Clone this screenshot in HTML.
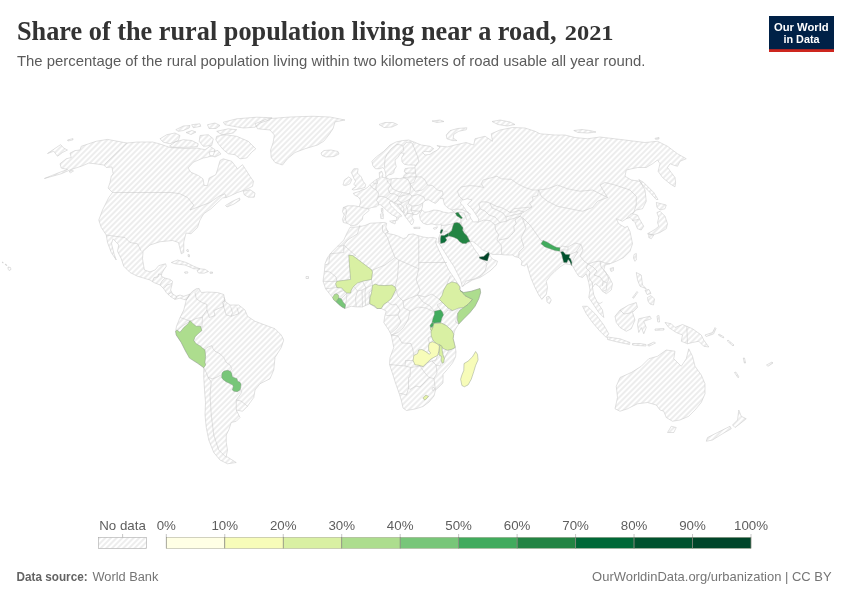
<!DOCTYPE html>
<html><head><meta charset="utf-8"><title>Share of the rural population living near a road, 2021</title>
<style>
html,body{margin:0;padding:0;background:#fff;}
body{width:850px;height:600px;overflow:hidden;position:relative;font-family:"Liberation Sans",sans-serif;}
#title{position:absolute;left:17px;top:14px;font-family:"Liberation Serif",serif;font-weight:bold;font-size:25.5px;line-height:32px;color:#3d3d3d;white-space:nowrap;transform-origin:0 0;letter-spacing:0.1px;}
#sub{position:absolute;left:17px;top:52px;font-size:15px;line-height:20px;color:#5b5b5b;white-space:nowrap;transform-origin:0 0;}
#logo{position:absolute;left:769px;top:16px;width:65px;height:33px;background:#002147;border-bottom:3px solid #ce261e;color:#fff;font-weight:bold;font-size:11.6px;line-height:12px;text-align:center;letter-spacing:-0.35px;}
#logo div{position:absolute;left:0;width:65px;white-space:nowrap;}
#src{position:absolute;left:17px;top:568px;font-size:13px;line-height:16px;color:#5b5b5b;white-space:nowrap;transform-origin:0 0;}
#src b{font-weight:bold;}
#cc{position:absolute;right:17px;top:568px;font-size:13px;line-height:16px;color:#5b5b5b;white-space:nowrap;transform-origin:100% 0;}
svg{position:absolute;left:0;top:0;}
.lg{font-family:"Liberation Sans",sans-serif;font-size:13.3px;fill:#5e5e5e;}
</style></head><body>
<svg width="850" height="600" viewBox="0 0 850 600">
<defs>
<pattern id="nd" patternUnits="userSpaceOnUse" width="4" height="4" patternTransform="rotate(-45 2 2)">
<path d="M -1,2 l 6,0" stroke="#ccc" stroke-width="0.7"/>
</pattern>
<filter id="idf" x="0" y="0" width="850" height="600" filterUnits="userSpaceOnUse" color-interpolation-filters="sRGB"><feOffset dx="0" dy="0"/></filter>
</defs>
<g id="map">
<path d="M126.9,143 L117.5,141.25 L107.5,139.4 L96.25,141.25 L88.75,143.75 L81.25,146.25 L80,150 L75,150.6 L70,153.1 L71.25,157.5 L66.25,158.75 L60,163.75 L61.25,168.1 L67.5,169.4 L58,173 L44.4,178.5 L61.25,173.75 L71.25,169.4 L81.25,166.25 L88.75,163.1 L95,163.75 L103.75,165 L106.25,167.5 L111.9,166.9 L113.1,173.75 L111.25,176.25 L110,182.5 L108.1,188.1 L112.5,192.5 L108.75,197.5 L102.5,210 L98.75,220 L101.25,227.5 L106.25,235 L107.5,242.5 L111.25,252.5 L116.25,260 L114,253.75 L111.5,243.75 L113,238.75 L118.75,245 L117.5,251.25 L121.25,258.75 L123.75,266.25 L130,272.5 L137.5,276.25 L143.75,278.1 L150,280 L153.75,282.5 L160,285 L163.75,288.75 L166.25,292.5 L170,296.25 L175,299.4 L180,298.1 L183.75,299.4 L186.25,300 L190,294 L187.5,295 L183.75,296.25 L180,295 L176.25,296.25 L172.5,293.75 L170.6,290 L171.9,285 L172.5,281.25 L170,279.4 L165,278.1 L161.25,276.25 L161.9,273.1 L163.75,270 L166.25,266.25 L165.6,263.75 L158.75,265.6 L155,270 L150,271.9 L144.4,270 L143.75,266.25 L142.5,258.75 L143.1,251.25 L150,245 L160,241.75 L172.5,240.5 L178.5,242.5 L181.25,253.75 L183.75,252.5 L183.75,242 L186,233 L191,233.75 L197.5,227.5 L200,220 L203.75,213.75 L211,208.75 L215,205 L222.5,198 L226.25,197.5 L230,196 L237.5,192.5 L245,190 L252.5,186.3 L253.5,181.3 L250,176.3 L245.8,169.7 L242.5,164.7 L237.5,168.8 L235,165.5 L231.7,161.3 L223.3,158.8 L220,160.5 L217.5,169.7 L215.8,174.7 L209.2,178 L207.5,185.5 L204.2,185.5 L203,178.8 L198.3,175.5 L190.8,172.2 L188,168 L193.3,162.2 L203.3,158 L207.5,157.2 L213.3,155.5 L215,149.7 L210,146.3 L205,149.7 L196.7,148 L185,148.5 L170,147.5 L160,144 L152.5,142 L137.5,142Z M47.5,153.5 L60.6,144.6 L63.75,148.1 L67.5,150 L62.5,152.5 L57.5,156.25 L53.75,151.25Z M69,171.5 L72,169.8 L73.5,171 L70.5,172.8Z M67.5,140 L73,138.6 L73,139.8 L68,141Z M160,138.8 L166.7,134.7 L175,133 L180,135.5 L178.3,140.5 L170,143.8 L163.3,142.2Z M169.5,146 L175.5,141.8 L183.3,139.7 L191.7,140.5 L198.3,143.8 L197.5,146.6 L190,147.2 L180,147.4 L172.5,147.2Z M175.8,129.7 L183.3,126 L190,125.5 L189.2,128 L183.3,130.5 L178.3,131.3Z M191.7,124.7 L200,123.8 L200.8,126.3 L193.3,127.7Z M186,132.5 L192,130.5 L196,132 L191,134.5Z M207.5,124.7 L215,123 L220,125.5 L216,128.5 L209,128.5Z M216.7,131.3 L228.3,128.8 L236.7,129.7 L233.3,133 L221.7,134.7Z M223.3,122.2 L236.7,118.8 L256.7,117.2 L272,117.7 L270,119.7 L260,123 L255,127.2 L243.3,128 L233.3,126.3 L225,124.7Z M216.7,136.3 L225,134.7 L236.7,136.3 L248.3,141.3 L255.8,148.8 L251.7,152.2 L246.7,158 L240,158.8 L235,154.7 L228.3,153.8 L223.3,149.7 L218.3,143.8 L215.8,139.7Z M200,135.5 L208.3,134.7 L213.3,138.8 L211.7,145.5 L203.3,146.3 L199.2,141.3Z M209,152 L218,150.5 L221,154 L215,157 L210,155.5Z M243.3,191.3 L250,189.7 L255,193 L254.2,197.2 L248.3,197.2 L244.2,194.7Z M225.5,205.5 L232,201.5 L239.5,198 L240,200 L234,204 L227,207Z M255,123.75 L267.5,118.75 L290,117 L312.5,116.25 L330,117 L345,120 L335,121.9 L333,128.75 L328.75,135 L323.75,141.25 L317.5,145 L305,148.75 L295,152.5 L287.5,158.75 L282.5,165 L275,162.5 L271.25,157.5 L270.6,150 L273.1,142.5 L274.4,135 L270,130 L257.5,128.75Z M321,153 L324,150.5 L331,150 L338,151.5 L339,154 L334,156.5 L326,157 L322,155.5Z M171.25,262.5 L177.5,260 L186.25,262.5 L193.75,266.25 L200,268.75 L193.75,268.75 L185,265 L175,263.75Z M197,270.5 L200,268.8 L205,269.3 L208.5,271.5 L204,273.2 L198.5,273Z M184.5,272 L187.5,271.7 L188,273 L185,273.3Z M210,272 L212.5,272 L212.5,273.3 L210,273.3Z M186.25,300 L190,294 L192.5,291.25 L196.25,288.75 L199,288.5 L201.25,292.5 L207.5,292 L217.5,292.5 L223.75,294.5 L225,301.25 L230,305 L238.75,305 L245,310 L247.5,316.25 L255,321.25 L265,325 L275,328.75 L281.25,335 L283.75,340 L281.25,347.5 L275,357.5 L273.75,370 L270,378.75 L260,383.75 L255,390 L253.75,397.5 L247.5,406.25 L242.5,411.25 L236.25,410 L240,417.5 L236.25,421.25 L231.25,422.5 L228.75,430 L226.25,435 L226.25,442.5 L227.5,450 L226.25,456.25 L236.25,462.5 L227.5,463.75 L220,460 L213.75,452.5 L208.75,440 L206.25,427.5 L205,415 L205.5,402.5 L204.5,390 L203.75,377.5 L203.75,367.5 L192.5,360 L186.25,352.5 L181.25,342.5 L176.25,335 L175.6,331.25 L176.5,326.25 L180,317.5 L183.75,310Z M350,227.3 L357,227 L365,225.5 L370,223.25 L378.3,222.8 L384.2,222.4 L386.7,223.25 L385.8,227 L387.5,231.2 L388.3,233.7 L393.3,234.5 L398.3,236.2 L403.3,238.7 L406.7,237.4 L408.3,234.5 L413.3,234 L416.7,235.3 L423.3,237 L428.3,237.8 L433.3,237.4 L436.5,238.5 L435.6,242.5 L438.75,250 L443.75,260 L448.75,270 L453.75,277.5 L458.75,285 L460.6,288.75 L460,290.6 L463.75,292.5 L471.25,291.25 L480,288.5 L480.6,292.5 L478.75,298.75 L475,306.25 L470,312.5 L463.75,318.75 L458.75,324 L455,330 L453.75,334.25 L453.1,338.6 L454.4,343.6 L455.25,347.4 L456,351.75 L455.6,356.75 L452.5,363 L447.5,369.25 L443.1,374.25 L443,383 L439,387 L435.5,390 L434,396 L429,402 L423,406.5 L415,409 L406.5,410.5 L403,408 L401.5,401 L399,393 L395.5,383 L392,372 L389.5,364.5 L390,357.5 L393.75,347.5 L391.25,335 L388.75,330 L383.75,322.5 L385,315 L386.25,311 L381.25,308.5 L376.9,308.5 L369.75,303.75 L362.5,306.9 L356.25,306.9 L351.25,306.25 L345,308.5 L341.9,306.9 L338.75,304.4 L336.25,301.9 L332.5,297.5 L330,294.4 L325.6,288.75 L323,281.25 L324.4,271.25 L325,263.75 L327.5,257.5 L332.5,251.25 L337.5,246.25 L343.75,240 L347,233Z M350.8,225.8 L349.2,224.2 L346.7,223.3 L343.3,222.5 L342.5,219.2 L344.2,215 L342.5,211.7 L343.3,207.5 L347.5,205.8 L354.2,205.8 L359.2,206.7 L360.7,202 L360,199.3 L358,196.7 L354.7,195.3 L353.3,193.3 L357.3,192 L360,191.3 L361.3,190 L364.7,189.3 L367.7,187.3 L370,184.7 L372.7,182 L376.7,179.3 L379.6,177.9 L379.2,172.5 L381.7,171.25 L382.9,174.2 L382.5,177.5 L386.7,177.9 L389.2,179.2 L391.7,178.75 L395.8,178.3 L400,178.75 L403.3,177.5 L404.2,175 L406.7,173.3 L404.2,171.7 L405,168.75 L408.3,168 L415,167.8 L415,165 L408.3,165 L404.2,164.2 L402,161.7 L401.7,157.5 L404.2,153.3 L400.8,152.9 L397.9,157.5 L395,160 L395.4,163.3 L396.25,166.7 L394.2,170 L393.75,172.9 L391.7,174.2 L388.3,175 L385.8,177.5 L385.8,174.2 L384.6,169.6 L382.9,167.5 L379.2,168.75 L375.4,168.75 L372.9,165.8 L371.9,161.25 L376.25,156.9 L383.75,151.25 L390,145 L396.25,141.9 L402.5,140.6 L408.75,140 L413.75,141.9 L421.25,145 L430,146.25 L433.75,148.75 L430,151.9 L425,151.25 L422.5,152.5 L425,155 L430,154.4 L433.75,151.9 L437.5,150 L440,146.9 L436.9,145.6 L441.25,146.25 L447.5,146.9 L455,145 L466,142.5 L473.75,145 L475,138.75 L485,136.25 L492.5,141.25 L491.25,133.75 L500,130 L512.5,127.5 L525,128 L535,131.25 L540,133.75 L555,135 L565,135 L575,137.5 L587.5,138.75 L600,137 L625,140 L645,142.5 L657.5,141.25 L667.5,146.25 L677.5,153.75 L686.25,158.75 L680,161.25 L677.5,166.25 L675,165.6 L670,163.75 L667.5,167.5 L671.25,172.5 L675,177.5 L675.6,182.5 L675,186.9 L670,183.75 L662.5,177.5 L658.1,171.25 L660,163.75 L657.5,160 L652.5,163.75 L646.25,167.5 L637.5,167.5 L626.25,170 L625,176.25 L631.25,180 L640,181.25 L645,190 L646.25,201.25 L642.5,208.75 L636.25,210 L632.5,213.75 L637.5,215 L640,220 L643.75,226.25 L641.25,230 L637.5,228.75 L635,222.5 L630,217.5 L626.25,218.75 L622.5,221.25 L616.25,218.75 L618.75,223.75 L625,227.5 L627.5,226.25 L630,231.5 L631.25,237.5 L632.5,243.75 L630,251.25 L623.75,257.5 L616.25,261.25 L610,263.75 L605,265 L603.75,270 L608.75,276.25 L612.5,283.75 L611.25,290 L606.25,293.75 L602.5,291.25 L598.75,286.25 L595,283.75 L592.5,287.5 L593.75,295 L597.5,302.5 L602.5,310 L603.75,317.5 L598.75,312.5 L593.75,305 L588.75,297.5 L590,290 L588.75,282.5 L586.25,273.75 L582.5,277.5 L578.75,276.25 L576.25,272.5 L572,265 L565,263.75 L560,266.9 L555,271.25 L550,276.25 L546.25,281.25 L547.5,287.5 L546.25,294.4 L541.9,299.4 L538.75,295 L535,287.5 L531.25,278.75 L528.1,268.75 L526.9,263.75 L524.5,266 L521.25,265 L522,261 L518.75,257.5 L515,256.7 L512.5,255 L506.25,255 L500,254.4 L492.5,254.4 L490,253.1 L487.5,251.9 L482.5,250 L477.5,245 L472.5,241.25 L470,241.9 L471.9,245 L475,250 L478.75,255 L480,257.25 L483.75,256.25 L487.5,253.3 L489.2,252.3 L490,256.25 L493.1,259.4 L497.5,261.25 L496.25,265 L491.25,270 L485,274.4 L480,277.5 L472.5,280 L466.25,283.75 L461.9,286.5 L461.9,285 L460.6,280 L457.5,273.75 L453.75,266.25 L448.75,258.75 L442.5,248.75 L438.5,242.5 L438.75,237.5 L440.75,233 L441.2,227.2 L441.2,223.8 L439.5,224.7 L436.2,225 L432,223.8 L427,224.7 L422.8,223 L420.3,219.7 L419.5,215.5 L420.3,213 L422,209.7 L424.5,212.2 L428.7,211.75 L433.7,210 L438.7,210.5 L443.7,212.2 L448.7,213 L453.7,212.2 L452,210 L447.8,208 L444.5,204.7 L442.8,198 L439.5,198.8 L437.8,201.3 L435.3,203.4 L432,201.75 L428.7,199.7 L425.3,200.5 L422.8,203 L422.4,207.2 L421.5,209.5 L420,211.2 L419.2,212.8 L416.7,214.5 L413.3,214.5 L411.7,217 L413.75,220.3 L413.3,222.8 L411.7,225 L410,222.8 L407.5,219.5 L405,216.2 L403.3,212.8 L399.2,208.7 L395,204.5 L391.7,201.2 L389.2,202 L390.8,205.3 L394.2,208.7 L398.3,212.8 L400.8,214.5 L401.7,216.2 L399.2,217 L397.9,219.5 L396.7,220.75 L396.7,217 L392.5,215 L388.3,212 L384.2,207.8 L380,204.5 L378.3,205 L376.7,206.7 L371.7,207.5 L368.3,208.75 L369.2,210.4 L365.8,213.3 L362.9,215.8 L362.5,219.2 L360,221.7 L356.7,225Z M343,185 L344.4,180 L348.75,176.9 L351.9,179.4 L350,183.75 L345.6,185.6Z M351.25,172.5 L353.75,168.75 L358.1,168.75 L357.5,173.1 L361.25,176.9 L363.1,181.25 L365.6,184.4 L365,187.5 L360,188.75 L353.75,190 L351.9,189.4 L356.25,186.25 L353.75,184.4 L355.6,181.25 L353.75,178.1 L352.5,175Z M389.6,221.2 L395.8,220.3 L395,224 L391.25,222.4Z M380.4,214 L383.3,213.7 L383.3,218.7 L380.8,218.4Z M381.25,208.5 L382.9,208.25 L382.9,212.8 L381.6,212.3Z M413.7,227.3 L420,227.2 L420,228.4 L413.9,228.5Z M433.2,228.2 L437.6,226.75 L436.3,228.8 L434,229.2Z M446.9,138.75 L446.25,135 L450,130.6 L457.5,128.5 L466.9,127.75 L466.25,129.75 L458.75,131.25 L453.75,134.4 L453.1,138.1 L456.9,140.6 L452.5,140.6Z M379,124.5 L385,122.5 L393,122.5 L397.5,124.5 L392,127 L384,127.5Z M432,121 L440,120 L444,121.5 L437,122.5Z M492,121.5 L500,120 L510,122 L515,124.5 L507,126 L498,124.5Z M573.75,130.5 L582,129.5 L590,130.5 L596,132 L588,133 L578,132.5Z M655,138.3 L659,137.5 L659,139 L655.5,139.3Z M638.75,179.5 L643.75,182.5 L653.75,192.5 L658,199.5 L656.25,199.5 L650,192.5 L642.5,185Z M656.25,202.5 L666.25,205 L665,208.75 L660,210 L657,207.5Z M660,211.25 L665,216.25 L667.5,223.75 L666.25,228.75 L660,232.5 L652.5,235 L647.5,233.75 L655,229.4 L658.75,226.25 L657.5,222.5 L658.75,217.5 L656.9,212.5Z M648.75,233.75 L653.75,235 L651.25,238.75 L648.75,237.5Z M634,254.5 L636.3,253.5 L636.3,260 L634.8,261.3 L633.5,258Z M610,268.5 L613.5,267.5 L613.5,270.5 L611,271.5Z M546.5,297 L549,296.3 L551.3,300 L549.5,303.7 L547,302Z M636.25,272.5 L641.25,275 L642.5,285 L646.25,288.75 L640,286.25 L637.5,280Z M647.5,297.5 L651,295.5 L654.5,299 L653.5,305 L650,304 L648,301Z M645,290 L649,289.5 L651,293.5 L647,294.5Z M632.5,297.5 L637,291.5 L637.8,292.3 L633.5,298.3Z M615,316.25 L620,310 L628.75,305 L636.25,302.5 L637.5,307.5 L632.5,312.5 L635,320 L631.25,328.75 L626.25,331.25 L620,327.5 L616.25,322.5Z M582.5,306.25 L587.5,306.25 L596.25,315 L603.75,325 L608.75,333.75 L606.25,337.5 L600,331.25 L592.5,322.5 L586.25,313.75Z M607.5,337 L620,338.75 L630,342.5 L629.5,344.5 L617.5,342 L607.5,339.5Z M638.75,318.75 L650,316.25 L651.25,318.75 L643.75,321.25 L646.25,327.5 L643.75,333.75 L641.25,327.5 L638.75,332.5 L637.5,325Z M632.5,343.5 L640,343.5 L646,344.5 L646,346 L638,345.5 L632.5,345Z M647.5,345 L654,342 L655.5,343 L649,346.2Z M657,316 L659,315.5 L659.5,322 L657.8,322Z M655,329 L664,328.5 L664,330 L655,330.3Z M665,322.5 L671.25,323.75 L675,327.5 L682.5,324.5 L692.5,328.75 L701.25,335 L703.75,340 L708.75,347 L703.75,346.25 L698.75,341.25 L692.5,342.5 L687.5,343.75 L681.25,341.25 L682.5,335 L676.25,332.5 L668.75,327.5Z M705,335 L712.5,332.5 L715,327.5 L716,328.5 L713.5,334 L706,336.5Z M615,408.75 L617.5,397.5 L616.25,386.25 L620,377.5 L631.25,372.5 L641.25,366.25 L648.75,358.75 L657.5,356.25 L666.25,350 L675,351.25 L673.75,358.75 L681.25,366.25 L686.25,358.75 L688.75,348.75 L692.5,356.25 L695,366.25 L701.25,375 L705,383.75 L705,393.75 L701.25,402.5 L695,410 L688.75,416.25 L680,420 L672.5,421.25 L666.25,417.5 L663.75,411.25 L660,410 L656.25,405 L647.5,402.5 L637.5,403.75 L627.5,408.75 L620,411.25Z M667.5,432.5 L671.25,426.25 L676.25,427.5 L673.75,432.5Z M738.75,410 L741.25,416.25 L746.25,418.75 L740,423.75 L735,427.5 L732.5,425 L737.5,420Z M730,426.25 L731.25,428.75 L722.5,433.75 L712.5,440 L706.25,441.25 L707.5,437.5 L717.5,432.5Z M734.5,372.5 L735.8,372 L739,377 L738,377.8Z M766.5,365 L772,362 L773,363 L768,366.3Z M743.3,358 L744.5,358 L745.5,363 L744.3,363Z M719,334 L724,337 L723.3,338 L718.3,335Z M728,340 L734,345 L733,346 L727.3,341Z M2,262 L3.2,262.3 L3,263.2Z M5,264 L7,265 L6.5,265.9Z M8,267 L10.5,267.5 L11,269.5 L9,270.5 L8,269Z M306,276.5 L308.5,276.5 L308.5,278.5 L306,278.5Z M186.5,250 L188,249.3 L188.5,251.5 L187.2,251.5Z M188,254.5 L189.5,254.8 L189.3,257 L188.2,256.5Z" fill="url(#nd)" stroke="#c4c4c4" stroke-width="0.5" stroke-linejoin="round"/>
<path d="M460.8,201.7 L462.5,200 L467.5,198.75 L472,200 L469,202.5 L467.5,204.6 L471.7,208.3 L474,211.7 L476.7,215.8 L478.75,219 L478.3,221.7 L473.3,222 L470.8,218.3 L469,214 L465.8,210 L463,205.8 L460.4,203Z" fill="#fff" stroke="#c4c4c4" stroke-width="0.5" stroke-linejoin="round"/>
<path d="M126.9,143 L104.4,164.75 M112.5,192.5 L171.25,192.5 L180,193.75 L187.5,197.5 L193.75,205 L190,210 L200,206.25 L210,202.5 L218.75,196.25 L225,193.75 L226.25,197.5 M106.25,235 L115,236.25 L125,237.5 L130,242.5 L137.5,243.75 L141.25,251.25 M152.5,281.5 L154,277.5 L158,277 L158.5,274 L161.5,274.5 M160,285 L162,281 L165,278.1 M163.75,288.75 L167,285 L172,283.5 M168,294.5 L171,292.5 L172.5,293.75 M175,299.4 L176.5,297.5 L176.25,296.25 M199,288.5 L195,292.5 L196.25,298.75 L201.9,302.5 L206.9,304.4 L206.9,310 M206.9,310 L209.4,317.5 L215,315.6 L213.75,310.6 L223.75,306.25 L222.5,302.5 L225,300 L223.75,297 M225,300 L223.1,305 L226.25,315 L231.25,316.25 L235,315 L238.75,313.75 L242.5,310 M231.25,316.25 L232.5,312.5 L230.6,306.5 M238.75,313.75 L236.9,307.5 M206.9,310 L202.5,316.25 L201.9,327.5 M180,317.5 L186,319.5 L190,321.25 L196,318.5 L202.2,317.3 M190,321.25 L183,325.5 L177.5,330 M205,350 L206.9,347.5 L211.9,345.6 L213.1,348.75 L215,351.25 L220,353.75 L223.75,357.5 L226.25,362.5 L230,365 L231.9,368.75 L230,371.25 M203.75,367.75 L206.25,372.5 L208.1,377.5 L211.25,382 L210,395 L211.25,415 L213.75,435 L218.75,450 L226.25,457.5 M208.1,377.5 L212.5,378.75 L216.25,377.5 L222,374.5 M236.25,391.75 L240,388.75 L242,392 L236.25,400 L236.25,410 M236.25,400 L241,401 L247.5,406.25 M360,225 L357.5,233.75 L347.5,240 L343.75,245 M343.75,245 L343.75,252.5 L330,253.75 L328.75,263.75 L325,265 M337.5,246.25 L343.75,245.6 M343.75,245 L356.25,256.25 M372.5,270 L385,265 L395,257.5 M395,257.5 L390,245 L387.5,237.5 L385,233.75 L382.5,231 L382.5,225 M385,233.75 L388.5,231.5 L386.25,230 M418.75,236.5 L418.75,262.5 L418.75,268.75 M395,257.5 L398.75,260 L418.75,268.75 M418.75,262.5 L447,262.5 M398.75,260 L397.5,277.5 L395,287 M418.75,268.75 L416.25,280 L420,290 L417.5,295 M417.5,295 L425,297 L432,294 L439.4,299.4 M446.9,284.4 L449,279 L450.5,275.5 M396,289.4 L398,296 L403,301 L410,298 L417.5,295 M395,287 L396,289.4 M387.5,301.9 L392,305 L396,304 L400,310 L398,315 L386.25,315.5 M403,301 L404,308 L410,311 L418,307 L426,308 L432,311 L434.4,311.25 M417.5,295 L423,302 L430,306 L434.4,311.25 M441.9,301.9 L437,305 L440.6,309.75 M443.5,315 L448,310 L452.5,310.6 M441.25,323 L446.25,325.5 M457.75,313.1 L455.5,322 L458.75,324 M398,315 L401,322 L397,328 L391.25,333 M410,311 L408,320 L403,328 L398,332.5 L391.25,335 M391.25,335 L398,336 L402,343 L411,343.5 L413,350 L413.75,355.5 M429.4,343 L428,338 L431.25,336.1 M413.1,360.5 L405.5,360.5 L405,366 L389.5,364.5 M405,366 L411,367.5 L420,366 L418.75,365.25 M410.5,367.5 L410,377 L408.5,377.5 L408.5,388 L406.5,395 L401,393.5 L399.5,393.5 M420,366 L425,373 L429,377.5 L424,383 L420,387 L416,386 L410,389.5 L408.5,388 M420,366 L423.1,366.5 L427,362.8 L432,361 L436,365 L437,373 L434,378.5 L429,377.5 M434,378.5 L435,387 L435.5,390 M437.5,355.5 L436,360 L432,361 M436,365 L440,366 L441.5,362.5 M455.25,347.4 L449,350 L444.4,358.6 M323,281.25 L331,281.5 L336.9,281.25 M324.4,271.25 L330,272 L336,277 L336.9,281.25 M325.6,288.75 L333,288 L336.9,287.5 M334.4,294.4 L339,292 L343.75,290.6 M341.25,298.75 L344,296 L346.9,293.1 M345.6,305 L346.5,299 L346.9,293.1 M356.25,306.9 L355.5,298 L357.5,291 L353.75,286.25 M357.5,291 L362,290 L366,288 L362.5,281.25 M362,290 L362.5,306.9 M365.5,305.5 L365,292 L366,288 M369.75,303.75 L369,293 L371.9,290 M366,288 L370,286 L372.5,285.6 M371.5,279.4 L372.5,285.6 M343.3,207.5 L346,208.5 L346.5,213 L345,218 L346.5,222.8 M359.2,206.7 L364,208 L368.3,208.75 M370,184.7 L372,187.5 L376,190 L378.5,193 L378,197 L376.5,200.5 L378.5,203 L378.3,205 M376.7,179.3 L377.5,183 L376,186 L376,190 M372.7,182 L374.5,184 L377.5,183 M378,197 L382,196.3 L386,197.5 L389,199.5 L391.7,201.2 M386.7,177.9 L387.5,182 L390.6,185 L388,189 L390,193.5 L386,197.5 M390.6,185 L392.5,188.75 L397.5,191.25 L402.5,192.5 L409.4,193.75 M391.25,179 L390.6,185 M403.3,177.5 L408,179.5 L410,183.75 L410.6,188.75 L409.4,193.75 M390,193.5 L395,194 L399,196.5 L402.5,192.5 M399,196.5 L397.5,200 L394,202.5 L391.7,201.2 M399,196.5 L404,195.5 L409.4,193.75 L412,196 M397.5,200 L402,203 L406,201 L410,199 L412,196 M412,196 L418,194.5 L424,197 L425.3,200.5 M410,199 L408,203.5 L412,206 L418,205.5 L422.8,203 M394,202.5 L397,204 L401,204.5 L402,203 M397,204 L399.5,207.5 L403.3,212.8 M401,204.5 L404,208 L403.5,211 L405,213.5 M408,203.5 L406,206 L408,210 L407,213.5 L405,216.2 M412,206 L411,210 L413.3,214.5 M407,213.5 L411,213.5 L413.3,214.5 M411,210 L416,211 L420,211.2 M410,183.75 L415,191.25 L422.5,190 L427.5,185 L425,180 L421.25,176.9 L416.25,176.9 M410,183.75 L413.75,182.5 L416.25,176.9 M427.5,185 L432.5,185.6 L437.5,190 L442.5,191.25 L443.1,195 L440,198.1 M415,168 L415.6,173.1 L416.25,176.9 M405.5,173.3 L410,173 L415.6,173.1 M403.3,177.8 L410,176.9 L416.25,176.9 M384.4,167.5 L385,158.75 L386.9,154.4 L391.25,148.75 L396.9,144.4 L401.25,145 L403.1,146.25 M403.1,146.25 L406.25,142.5 L410,141.9 L412.5,143.75 L413.75,141.9 M403.1,146.25 L403.75,150.6 L401.25,153.1 M412.5,143.75 L415,150 L417.5,156.25 L418.75,161.25 L415.6,166 M453.7,212.2 L455.4,213.1 L460.6,218.75 M452,210 L456,209 L462,209.5 L468,212.5 L471,214.5 M458.1,212.25 L464,213 L466.9,220 M441.2,225.5 L447,225 L454,223.5 L460.6,222.5 L461.25,223.75 M460.6,218.75 L461.25,223.75 L463.1,228.75 L465.6,233.1 L468.1,237.5 L470,241.9 M441.5,233 L445,231 L449,232.5 L453.5,227 L454,223.5 M440.6,243.5 L443.5,243 L448.5,236.5 M438.75,237.5 L439.6,242 M437.5,242 L435.5,242 M465,243.5 L470,241.7 M462.5,287 L466,281 L474,279 L481,275.5 M481,275.5 L485,271 L487,264 L484.5,261 M479,256.7 L484.5,261 M486,259 L486.7,254.5 M477.5,222.5 L483.75,220 L490,220.6 L495,225 M495,225 L495.6,230 L498.75,235 L496.9,240 L501.25,245 L501.7,254 M495,225 L500,222.5 L506.25,221.25 L510,219.4 L515,218.1 L520,216.25 M520,216.25 L515,220 L516.25,223.75 L513.75,226.25 L514.4,231.25 L511.25,235 L508.1,238.1 L502.5,239.4 L498.75,240 M522.5,218.75 L526,228 L521,238 L524,247 L519,252 L518.75,257.5 M457.5,191.25 L461.25,186.9 L470,185.6 L477.5,186.25 L483.75,187.5 L481.25,183.75 L483.1,180 L490,178.1 L496.9,176.25 L501.25,178.75 L511.25,179.4 L517.5,183.75 L525,187.5 L532.5,190 L538.75,190 M538.75,190 L537.5,195.6 L532.5,196.9 L533.1,200.6 L529.4,203.1 L531.9,206.9 L526.25,207.5 L520,208.1 L513.75,208.75 L510,212.5 L506.25,210 L501.25,207.5 L496.25,206.25 L490,203.1 L486.25,201.9 L481.25,201.9 L478.75,203.75 L480,208.75 L476,214.5 M457.5,191.25 L459,196 L463.1,200 M480,208.75 L485,211 L489,215 L495,217 L500,222.5 M490,203.1 L492,208 L497,210 L503,213 L506,217 L506.25,221.25 M510,212.5 L514,212 L519,210.5 L524,212 L531.9,206.9 M506,217 L511,215.5 L516,214.5 L522,213 L524,212 M522,213 L520,216.25 L524,219 L522.5,218.75 M538.75,190 L547.5,188.75 L557.5,185 L567.5,188.75 L580,191.25 L592.5,190 L597.5,192.5 L607.5,197.5 L597.5,201.25 L592.5,207.5 L582.5,211.25 L570,208.75 L557.5,206.25 L547.5,201.25 L541.25,196.25 L538.75,190 M607.5,197.5 L600,185 L605,182.5 L615,185 L630,190 L636.25,196.25 L636.25,205 L633.75,212.5 M626.25,218.75 L630,214.5 L633.75,212.5 M632,220.5 L638.5,219.5 M524,219 L530,225 L535,232 L541,240.6 L543.1,240.6 M560,247.75 L562,246 L568,247 L575,243 L581,244.5 L583,250 L580,256 L584,261 L588,264 L594,262 L600,261 L605,263 L610,263.75 M560.6,251.9 L561,250 L568,250 L568,247 M570,254.4 L576,252 L581,244.5 M571.9,262.5 L574,258 L578,252 L576,252 M588,264 L586,268 L590,272 L589,278 L592.5,283 L592.5,287.5 M588,264 L593,267 L597,271 L594,275 L600,277 L603,281 L602.5,286 M603,281 L607,283 L606.25,290 L602.5,291.25 M600,261 L601,267 L605.5,272 L609,279 L607,283 M597.5,302.5 L600,303.5 L602.5,302 M620,310 L624,314 L630,313 L633,311 M686.8,326 L687.5,343.7 M432,389 L432.6,387.6 L434,387.4 L434.6,388.8 L433.8,390.4 L432.5,390.3 L432,389" fill="none" stroke="#c4c4c4" stroke-width="0.5" stroke-linejoin="round"/>
<g stroke="#7f8c7f" stroke-width="0.4" stroke-linejoin="round">
<path d="M348.75,255 L352.75,255.6 L371.9,270 L372.5,272.5 L371.5,279.4 L362.5,281.25 L357.5,283.1 L353.75,286.25 L351.25,290 L350.6,293.1 L346.9,293.1 L343.75,290.6 L341.9,288.1 L336.9,287.5 L335.6,283.75 L336.9,281.25 L341.9,280.6 L350.6,279.4 L349.4,265Z" fill="#d9f0a3"/>
<path d="M372.5,285.6 L375,284 L378.75,285.25 L385,285.6 L391.9,285 L395,286.9 L396,289.4 L393.75,293.75 L391.25,298.75 L387.5,301.9 L383.75,304.4 L381.25,308.5 L376.9,308.5 L375,306.25 L369.75,303.75 L370,297.5 L371.25,293.75 L371.9,290Z" fill="#d9f0a3"/>
<path d="M332.5,297.5 L334.4,294.4 L336.9,293.75 L338.75,295.6 L338.75,298.1 L336.25,301.9 L333.75,300Z" fill="#addd8e"/>
<path d="M336.25,301.9 L338.75,298.1 L341.25,298.75 L343.1,301.9 L345.6,305 L345,308.5 L341.9,306.9 L338.75,304.4Z" fill="#78c679"/>
<path d="M439.4,299.4 L441.9,295.6 L443.75,290 L446.9,284.4 L451.9,281.9 L456.9,283.1 L460,286.9 L459.4,289.4 L461.9,291.9 L465,295.6 L472.5,299.4 L468.1,304.4 L463.75,307.5 L458.75,308.1 L452.5,310.6 L448.1,308.1 L445,305 L441.9,301.9Z" fill="#d9f0a3"/>
<path d="M460,290.6 L463.75,292.5 L471.25,291.25 L480,288.5 L480.6,292.5 L478.75,298.75 L475,306.25 L470,312.5 L463.75,318.75 L458.75,324 L457.5,320 L457.75,313.1 L460,310 L463.75,307.5 L468.1,304.4 L472.5,299.4 L465,295.6 L461.9,291.9Z" fill="#addd8e"/>
<path d="M434.4,311.25 L440.6,309.75 L442.5,311.9 L443.5,315 L441.9,318.1 L440.6,322.5 L434.4,323.1 L431.9,322.5 L433.1,318.1 L434.4,314.4Z" fill="#41ab5d"/>
<path d="M431.9,322.75 L434.4,323.5 L433.5,326.25 L430.6,327.5 L430,325.6Z" fill="#41ab5d"/>
<path d="M430.6,327.75 L433.1,326.9 L434,329.4 L431.9,331.25 L430.6,330Z" fill="#d9f0a3"/>
<path d="M433.75,323.6 L441.25,323 L446.25,325.5 L451.9,330.5 L453.75,334.25 L453.1,338.6 L454.4,343.6 L455.25,347.4 L451.9,349.25 L447.5,350.25 L443.1,348.6 L440,344.9 L436.25,343.6 L433.1,340.5 L431.25,336.1 L431,331.75 L432.75,328Z" fill="#d9f0a3"/>
<path d="M429.4,343 L432.5,341.75 L436.9,343.6 L439.4,346.1 L438.75,351.75 L437.5,355.5 L433.75,357.4 L430.6,359.25 L426.9,363 L423.1,366.5 L418.75,365.25 L415,364.9 L413.1,360.5 L413.75,355.5 L417.5,353.6 L418.75,349.9 L421.9,349.5 L425,351.1 L429.4,354.25 L430.6,353 L428.75,350.5 L428.5,346.1Z" fill="#f7fcb9"/>
<path d="M439.75,344.9 L441.9,346.1 L442.25,350.5 L443.1,354.9 L444.4,358.6 L443.75,362.4 L442.25,363.25 L441,359.9 L441.25,356.1 L438.75,354.9 L439.4,350.5Z" fill="#d9f0a3"/>
<path d="M475.6,351.5 L477.5,354.25 L478.1,359.9 L475.6,365.5 L473.75,371.75 L471.25,379.25 L468.1,384.9 L464.4,386.75 L461.9,385.5 L460.6,379.25 L461.9,374.9 L463.75,370.5 L464,363.6 L468.1,361.1 L472.5,356.75Z" fill="#f7fcb9"/>
<path d="M422.8,398 L426,395 L428.5,396.5 L425,400.2Z" fill="#e6f3a8"/>
<path d="M175.6,331.25 L176.9,330 L180,332.25 L183.75,327.5 L188.1,323.75 L190,320.6 L193.1,323.75 L196.25,326.25 L200.6,326.25 L201.9,330.6 L198.1,333.75 L195,336.9 L193.75,340.6 L196.25,343.75 L200.6,346.25 L202.5,348.1 L205,350 L205.6,356.25 L205,362.5 L205.6,365 L203.75,367.75 L197.5,363.1 L189.4,358.1 L185,350 L181.25,342.5 L176.25,335Z" fill="#addd8e"/>
<path d="M221.7,377.7 L222,373 L224,371 L227.7,370.3 L230.3,371.3 L231.7,373.3 L232.3,376.7 L235,377.9 L237,378.7 L237.7,381.3 L240,382.3 L241,384 L240.7,388 L239.7,390.3 L237.3,391.7 L234,391.3 L232.3,390 L233.3,386.7 L232.7,385 L229.3,383.3 L226,381.7 L223.3,379.7Z" fill="#78c679"/>
<path d="M455.4,213.1 L458.1,212.25 L460,215 L462.5,218.1 L461.25,218.75 L458.75,216.9 L456.9,216Z" fill="#238443"/>
<path d="M448.2,233.8 L451.8,230.6 L452.8,226.2 L454.2,223 L457,222.4 L459.8,223.4 L461.4,225.8 L463,227.8 L462.6,230.2 L464.2,233 L467,235.8 L468.6,239 L470,241.4 L467.4,242.2 L466.2,243.6 L462.6,243.6 L459.8,241.8 L457.4,239 L454.2,237.4 L451,236.4 L448.6,236Z" fill="#238443"/>
<path d="M441,235.4 L444.2,235.6 L448.2,233.2 L448.8,236 L445.4,237.8 L446.8,240 L444.6,242.6 L440.6,243.4 L440.4,239Z" fill="#0c6e39"/>
<path d="M440,233 L441,229.8 L442.6,229.4 L442.8,230.6 L441.4,233.6Z" fill="#0a5f35"/>
<path d="M479.2,257 L483.8,256.4 L486.2,254.2 L488.4,252.2 L489.4,254.2 L488.2,258.2 L487.4,261 L483,259.8 L479.8,258.6Z" fill="#004529"/>
<path d="M541,243.75 L543.1,240.6 L546.9,241.9 L551.9,245 L556.25,247.25 L560,247.75 L559.75,251.25 L555,250.6 L550,248.75 L545,246.9Z" fill="#41ab5d"/>
<path d="M560.6,251.9 L563.1,251.5 L565.6,254.4 L570,254.4 L569,257.5 L570.6,258.75 L571.9,262.5 L571.5,265.6 L569.75,261.25 L568.1,259.4 L566.9,262.5 L563.75,262.5 L562.5,258.1 L561.9,255Z" fill="#00522e"/>
</g>
</g>
<g id="legend" filter="url(#idf)">
<rect x="98.6" y="537.3" width="48.1" height="11.1" fill="url(#nd)" stroke="#aaa" stroke-width="0.6"/>
<line x1="122.6" y1="534" x2="122.6" y2="537.3" stroke="#666" stroke-width="0.5" stroke-opacity="0.75"/>
<text x="122.5" y="530" text-anchor="middle" class="lg">No data</text>
<rect x="166.3" y="537.3" width="58.47" height="11.1" fill="#ffffe5" stroke="#a3a38f" stroke-width="0.5"/>
<rect x="224.77" y="537.3" width="58.47" height="11.1" fill="#f7fcb9" stroke="#a3a38f" stroke-width="0.5"/>
<rect x="283.24" y="537.3" width="58.47" height="11.1" fill="#d9f0a3" stroke="#a3a38f" stroke-width="0.5"/>
<rect x="341.71" y="537.3" width="58.47" height="11.1" fill="#addd8e" stroke="#a3a38f" stroke-width="0.5"/>
<rect x="400.18" y="537.3" width="58.47" height="11.1" fill="#78c679" stroke="#a3a38f" stroke-width="0.5"/>
<rect x="458.65" y="537.3" width="58.47" height="11.1" fill="#41ab5d" stroke="#a3a38f" stroke-width="0.5"/>
<rect x="517.12" y="537.3" width="58.47" height="11.1" fill="#238443" stroke="#a3a38f" stroke-width="0.5"/>
<rect x="575.59" y="537.3" width="58.47" height="11.1" fill="#006837" stroke="#a3a38f" stroke-width="0.5"/>
<rect x="634.06" y="537.3" width="58.47" height="11.1" fill="#00522e" stroke="#a3a38f" stroke-width="0.5"/>
<rect x="692.53" y="537.3" width="58.47" height="11.1" fill="#004529" stroke="#a3a38f" stroke-width="0.5"/>
<line x1="166.3" y1="534" x2="166.3" y2="548.4" stroke="#666" stroke-width="0.5" stroke-opacity="0.75"/>
<text x="166.3" y="530" text-anchor="middle" class="lg">0%</text>
<line x1="224.77" y1="534" x2="224.77" y2="548.4" stroke="#666" stroke-width="0.5" stroke-opacity="0.75"/>
<text x="224.77" y="530" text-anchor="middle" class="lg">10%</text>
<line x1="283.24" y1="534" x2="283.24" y2="548.4" stroke="#666" stroke-width="0.5" stroke-opacity="0.75"/>
<text x="283.24" y="530" text-anchor="middle" class="lg">20%</text>
<line x1="341.71" y1="534" x2="341.71" y2="548.4" stroke="#666" stroke-width="0.5" stroke-opacity="0.75"/>
<text x="341.71" y="530" text-anchor="middle" class="lg">30%</text>
<line x1="400.18" y1="534" x2="400.18" y2="548.4" stroke="#666" stroke-width="0.5" stroke-opacity="0.75"/>
<text x="400.18" y="530" text-anchor="middle" class="lg">40%</text>
<line x1="458.65" y1="534" x2="458.65" y2="548.4" stroke="#666" stroke-width="0.5" stroke-opacity="0.75"/>
<text x="458.65" y="530" text-anchor="middle" class="lg">50%</text>
<line x1="517.12" y1="534" x2="517.12" y2="548.4" stroke="#666" stroke-width="0.5" stroke-opacity="0.75"/>
<text x="517.12" y="530" text-anchor="middle" class="lg">60%</text>
<line x1="575.59" y1="534" x2="575.59" y2="548.4" stroke="#666" stroke-width="0.5" stroke-opacity="0.75"/>
<text x="575.59" y="530" text-anchor="middle" class="lg">70%</text>
<line x1="634.06" y1="534" x2="634.06" y2="548.4" stroke="#666" stroke-width="0.5" stroke-opacity="0.75"/>
<text x="634.06" y="530" text-anchor="middle" class="lg">80%</text>
<line x1="692.53" y1="534" x2="692.53" y2="548.4" stroke="#666" stroke-width="0.5" stroke-opacity="0.75"/>
<text x="692.53" y="530" text-anchor="middle" class="lg">90%</text>
<line x1="751" y1="534" x2="751" y2="548.4" stroke="#666" stroke-width="0.5" stroke-opacity="0.75"/>
<text x="751" y="530" text-anchor="middle" class="lg">100%</text>
</g>
<g font-family="Liberation Sans, sans-serif" filter="url(#idf)">
<text x="17" y="40" font-family="Liberation Serif, serif" font-weight="bold" font-size="28" fill="#333" textLength="539.5" lengthAdjust="spacingAndGlyphs">Share of the rural population living near a road,</text>
<text x="564.7" y="40" font-family="Liberation Serif, serif" font-weight="bold" font-size="21" fill="#333" textLength="48.9" lengthAdjust="spacingAndGlyphs">2021</text>
<text x="17" y="66.4" font-size="14.6" fill="#5b5b5b" textLength="628.4" lengthAdjust="spacingAndGlyphs">The percentage of the rural population living within two kilometers of road usable all year round.</text>
<rect x="769" y="16" width="65" height="36" fill="#002147"/>
<rect x="769" y="49.2" width="65" height="2.8" fill="#ce261e"/>
<text x="801.3" y="30.6" text-anchor="middle" font-weight="bold" font-size="11.6" fill="#fff" textLength="54.7" lengthAdjust="spacingAndGlyphs">Our World</text>
<text x="801.5" y="42.6" text-anchor="middle" font-weight="bold" font-size="11.6" fill="#fff" textLength="36.1" lengthAdjust="spacingAndGlyphs">in Data</text>
<text x="16.6" y="580.6" font-weight="bold" font-size="12.5" fill="#636363" textLength="71" lengthAdjust="spacingAndGlyphs">Data source:</text>
<text x="92.4" y="580.6" font-size="12.5" fill="#757575" textLength="66" lengthAdjust="spacingAndGlyphs">World Bank</text>
<text x="592.1" y="580.6" font-size="13" fill="#757575" textLength="239.5" lengthAdjust="spacingAndGlyphs">OurWorldinData.org/urbanization | CC BY</text>
</g>
</svg>
</body></html>
